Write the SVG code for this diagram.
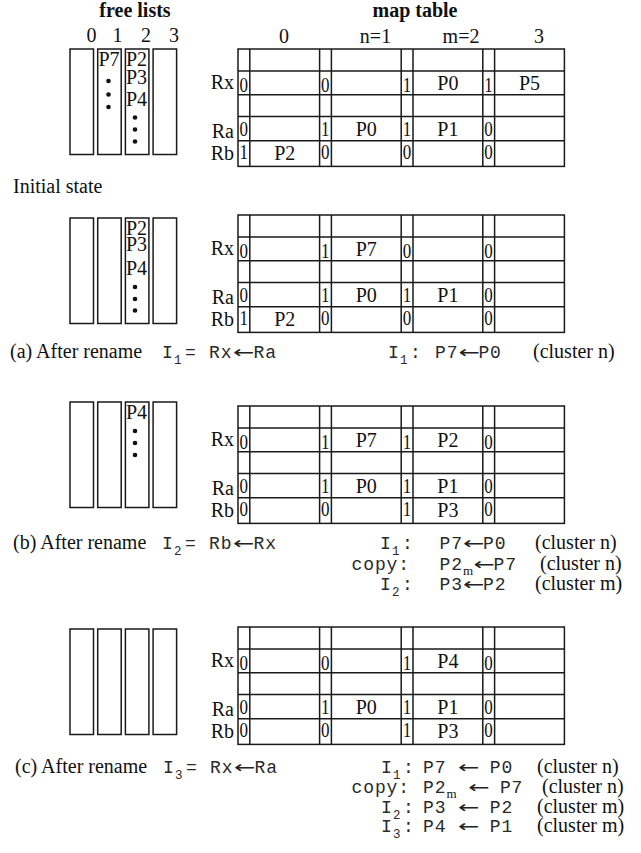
<svg xmlns="http://www.w3.org/2000/svg" xmlns:xlink="http://www.w3.org/1999/xlink" width="641" height="853" viewBox="0 0 641 853">
<style>
.t{font-family:"Liberation Serif","Times New Roman",serif;font-size:20px;fill:#111}
.b{font-weight:bold}
.mo{font-family:"Liberation Mono","Courier New",monospace;font-size:18px;letter-spacing:0.9px;fill:#2a2a2a}
.sub{font-family:"Liberation Mono","Courier New",monospace;font-size:12.5px;fill:#2a2a2a}
.subs{font-family:"Liberation Serif","Times New Roman",serif;font-size:13px;fill:#111}
.arr{font-family:"DejaVu Sans","Liberation Serif",sans-serif;font-size:17px;fill:#222}
.lbl{text-anchor:end}
.val{text-anchor:middle}
.fd{font-family:"Liberation Serif","Times New Roman",serif;font-size:20px;fill:#111}
.ln{fill:none;stroke:#1a1a1a;stroke-width:1.5}
.dot{fill:#111}
</style>
<defs>
<g id="grid" class="ln">
<rect x="238" y="0" width="326.4" height="117.4"/>
<path d="M238 22H564.4M238 45.7H564.4M238 67.5H564.4M238 91.7H564.4M249.8 0V117.4M319.6 0V117.4M331.4 0V117.4M401.2 0V117.4M413 0V117.4M482.8 0V117.4M494.6 0V117.4"/>
</g>
<g id="fl" class="ln">
<rect x="70" y="0" width="23.5" height="105.5"/>
<rect x="97.7" y="0" width="23.5" height="105.5"/>
<rect x="125.4" y="0" width="23.5" height="105.5"/>
<rect x="153.1" y="0" width="23.5" height="105.5"/>
</g>
</defs>

<g id="headers">
<text class="t b" x="135" y="16.5" text-anchor="middle">free lists</text>
<text class="t b" x="415" y="16.5" text-anchor="middle">map table</text>
<text class="t val" x="91.5" y="41.5">0</text>
<text class="t val" x="117.5" y="41.5">1</text>
<text class="t val" x="146" y="41.5">2</text>
<text class="t val" x="174" y="41.5">3</text>
<text class="t val" x="284" y="43">0</text>
<text class="t val" x="375.5" y="43">n=1</text>
<text class="t val" x="461" y="43">m=2</text>
<text class="t val" x="539" y="43">3</text>
</g>

<!-- Initial state -->
<g id="state0">
<g id="freelists0">
<use xlink:href="#fl" transform="translate(0,49)"/>
<text class="t" x="98.5" y="65.5">P7</text>
<circle class="dot" cx="108.5" cy="81" r="2.3"/>
<circle class="dot" cx="108.5" cy="94.5" r="2.3"/>
<circle class="dot" cx="108.5" cy="107" r="2.3"/>
<text class="t" x="126" y="65.5">P2</text>
<text class="t" x="126" y="83.5">P3</text>
<text class="t" x="126" y="106">P4</text>
<circle class="dot" cx="135" cy="117.5" r="2.3"/>
<circle class="dot" cx="135" cy="129.5" r="2.3"/>
<circle class="dot" cx="135" cy="141.5" r="2.3"/>
</g>
<g id="map0">
<use xlink:href="#grid" transform="translate(0,49)"/>
<text class="t lbl" x="234" y="88.5">Rx</text>
<text class="t lbl" x="234" y="137.5">Ra</text>
<text class="t lbl" x="234" y="160">Rb</text>
<text class="fd" x="239.5" y="91.5" textLength="8.5" lengthAdjust="spacingAndGlyphs">0</text>
<text class="fd" x="321.1" y="91.5" textLength="8.5" lengthAdjust="spacingAndGlyphs">0</text>
<text class="fd" x="402.7" y="91.5" textLength="8.5" lengthAdjust="spacingAndGlyphs">1</text>
<text class="fd" x="484.3" y="91.5" textLength="8.5" lengthAdjust="spacingAndGlyphs">1</text>
<text class="fd" x="239.5" y="135.5" textLength="8.5" lengthAdjust="spacingAndGlyphs">0</text>
<text class="fd" x="321.1" y="135.5" textLength="8.5" lengthAdjust="spacingAndGlyphs">1</text>
<text class="fd" x="402.7" y="135.5" textLength="8.5" lengthAdjust="spacingAndGlyphs">1</text>
<text class="fd" x="484.3" y="135.5" textLength="8.5" lengthAdjust="spacingAndGlyphs">0</text>
<text class="fd" x="239.5" y="159" textLength="8.5" lengthAdjust="spacingAndGlyphs">1</text>
<text class="fd" x="321.1" y="159" textLength="8.5" lengthAdjust="spacingAndGlyphs">0</text>
<text class="fd" x="402.7" y="159" textLength="8.5" lengthAdjust="spacingAndGlyphs">0</text>
<text class="fd" x="484.3" y="159" textLength="8.5" lengthAdjust="spacingAndGlyphs">0</text>
<text class="t val" x="447.9" y="90">P0</text>
<text class="t val" x="529.5" y="90">P5</text>
<text class="t val" x="366.3" y="135.5">P0</text>
<text class="t val" x="447.9" y="135.5">P1</text>
<text class="t val" x="284.7" y="159.5">P2</text>
</g>
<text class="t" x="13" y="193">Initial state</text>
</g>

<!-- (a) -->
<g id="stateA">
<g id="freelistsA">
<use xlink:href="#fl" transform="translate(0,218)"/>
<text class="t" x="126" y="234.5">P2</text>
<text class="t" x="126" y="251">P3</text>
<text class="t" x="126" y="275">P4</text>
<circle class="dot" cx="135" cy="287" r="2.3"/>
<circle class="dot" cx="135" cy="299" r="2.3"/>
<circle class="dot" cx="135" cy="310.5" r="2.3"/>
</g>
<g id="mapA">
<use xlink:href="#grid" transform="translate(0,215)"/>
<text class="t lbl" x="234" y="254.5">Rx</text>
<text class="t lbl" x="234" y="303.5">Ra</text>
<text class="t lbl" x="234" y="326">Rb</text>
<text class="fd" x="239.5" y="257.5" textLength="8.5" lengthAdjust="spacingAndGlyphs">0</text>
<text class="fd" x="321.1" y="257.5" textLength="8.5" lengthAdjust="spacingAndGlyphs">1</text>
<text class="fd" x="402.7" y="257.5" textLength="8.5" lengthAdjust="spacingAndGlyphs">0</text>
<text class="fd" x="484.3" y="257.5" textLength="8.5" lengthAdjust="spacingAndGlyphs">0</text>
<text class="fd" x="239.5" y="301.5" textLength="8.5" lengthAdjust="spacingAndGlyphs">0</text>
<text class="fd" x="321.1" y="301.5" textLength="8.5" lengthAdjust="spacingAndGlyphs">1</text>
<text class="fd" x="402.7" y="301.5" textLength="8.5" lengthAdjust="spacingAndGlyphs">1</text>
<text class="fd" x="484.3" y="301.5" textLength="8.5" lengthAdjust="spacingAndGlyphs">0</text>
<text class="fd" x="239.5" y="325" textLength="8.5" lengthAdjust="spacingAndGlyphs">1</text>
<text class="fd" x="321.1" y="325" textLength="8.5" lengthAdjust="spacingAndGlyphs">0</text>
<text class="fd" x="402.7" y="325" textLength="8.5" lengthAdjust="spacingAndGlyphs">0</text>
<text class="fd" x="484.3" y="325" textLength="8.5" lengthAdjust="spacingAndGlyphs">0</text>
<text class="t val" x="366.3" y="256">P7</text>
<text class="t val" x="366.3" y="301.5">P0</text>
<text class="t val" x="447.9" y="301.5">P1</text>
<text class="t val" x="284.7" y="325.5">P2</text>
</g>
<g id="captionA">
<text class="t" x="10" y="358">(a) After rename</text>
<text class="mo" x="162" y="358">I</text>
<text class="sub" x="174" y="364">1</text>
<text class="mo" x="185" y="358">=</text>
<text class="mo" x="209" y="358">Rx</text>
<text class="arr" transform="translate(233,358) scale(1.5,1)">←</text>
<text class="mo" x="253.5" y="358">Ra</text>
<text class="mo" x="388" y="358">I</text>
<text class="sub" x="400" y="364">1</text>
<text class="mo" x="410" y="358">:</text>
<text class="mo" x="435" y="358">P7</text>
<text class="arr" transform="translate(458.4,358) scale(1.5,1)">←</text>
<text class="mo" x="478.4" y="358">P0</text>
<text class="t" x="533" y="358">(cluster n)</text>
</g>
</g>

<!-- (b) -->
<g id="stateB">
<g id="freelistsB">
<use xlink:href="#fl" transform="translate(0,402)"/>
<text class="t" x="126" y="419">P4</text>
<circle class="dot" cx="135" cy="431" r="2.3"/>
<circle class="dot" cx="135" cy="443" r="2.3"/>
<circle class="dot" cx="135" cy="455" r="2.3"/>
</g>
<g id="mapB">
<use xlink:href="#grid" transform="translate(0,406)"/>
<text class="t lbl" x="234" y="445.5">Rx</text>
<text class="t lbl" x="234" y="494.5">Ra</text>
<text class="t lbl" x="234" y="517">Rb</text>
<text class="fd" x="239.5" y="448.5" textLength="8.5" lengthAdjust="spacingAndGlyphs">0</text>
<text class="fd" x="321.1" y="448.5" textLength="8.5" lengthAdjust="spacingAndGlyphs">1</text>
<text class="fd" x="402.7" y="448.5" textLength="8.5" lengthAdjust="spacingAndGlyphs">1</text>
<text class="fd" x="484.3" y="448.5" textLength="8.5" lengthAdjust="spacingAndGlyphs">0</text>
<text class="fd" x="239.5" y="492.5" textLength="8.5" lengthAdjust="spacingAndGlyphs">0</text>
<text class="fd" x="321.1" y="492.5" textLength="8.5" lengthAdjust="spacingAndGlyphs">1</text>
<text class="fd" x="402.7" y="492.5" textLength="8.5" lengthAdjust="spacingAndGlyphs">1</text>
<text class="fd" x="484.3" y="492.5" textLength="8.5" lengthAdjust="spacingAndGlyphs">0</text>
<text class="fd" x="239.5" y="516" textLength="8.5" lengthAdjust="spacingAndGlyphs">0</text>
<text class="fd" x="321.1" y="516" textLength="8.5" lengthAdjust="spacingAndGlyphs">0</text>
<text class="fd" x="402.7" y="516" textLength="8.5" lengthAdjust="spacingAndGlyphs">1</text>
<text class="fd" x="484.3" y="516" textLength="8.5" lengthAdjust="spacingAndGlyphs">0</text>
<text class="t val" x="366.3" y="447">P7</text>
<text class="t val" x="447.9" y="447">P2</text>
<text class="t val" x="366.3" y="492.5">P0</text>
<text class="t val" x="447.9" y="492.5">P1</text>
<text class="t val" x="447.9" y="516.5">P3</text>
</g>
<g id="captionB">
<text class="t" x="13" y="549">(b) After rename</text>
<text class="mo" x="162" y="549">I</text>
<text class="sub" x="174" y="555">2</text>
<text class="mo" x="185" y="549">=</text>
<text class="mo" x="209" y="549">Rb</text>
<text class="arr" transform="translate(233,549) scale(1.5,1)">←</text>
<text class="mo" x="253.5" y="549">Rx</text>

<text class="mo" x="380" y="549">I</text>
<text class="sub" x="392" y="555">1</text>
<text class="mo" x="402" y="549">:</text>
<text class="mo" x="439.5" y="549">P7</text>
<text class="arr" transform="translate(463,549) scale(1.5,1)">←</text>
<text class="mo" x="483" y="549">P0</text>
<text class="t" x="535" y="549">(cluster n)</text>

<text class="mo" x="351.5" y="569.5">copy:</text>
<text class="mo" x="439.5" y="569.5">P2</text>
<text class="subs" x="463" y="574.5">m</text>
<text class="arr" transform="translate(473.5,569.5) scale(1.5,1)">←</text>
<text class="mo" x="493.5" y="569.5">P7</text>
<text class="t" x="540" y="569.5">(cluster n)</text>

<text class="mo" x="380" y="590">I</text>
<text class="sub" x="392" y="596">2</text>
<text class="mo" x="402" y="590">:</text>
<text class="mo" x="439.5" y="590">P3</text>
<text class="arr" transform="translate(463,590) scale(1.5,1)">←</text>
<text class="mo" x="483" y="590">P2</text>
<text class="t" x="535" y="590">(cluster m)</text>
</g>
</g>

<!-- (c) -->
<g id="stateC">
<g id="freelistsC">
<use xlink:href="#fl" transform="translate(0,629)"/>
</g>
<g id="mapC">
<use xlink:href="#grid" transform="translate(0,627)"/>
<text class="t lbl" x="234" y="666.5">Rx</text>
<text class="t lbl" x="234" y="715.5">Ra</text>
<text class="t lbl" x="234" y="738">Rb</text>
<text class="fd" x="239.5" y="669.5" textLength="8.5" lengthAdjust="spacingAndGlyphs">0</text>
<text class="fd" x="321.1" y="669.5" textLength="8.5" lengthAdjust="spacingAndGlyphs">0</text>
<text class="fd" x="402.7" y="669.5" textLength="8.5" lengthAdjust="spacingAndGlyphs">1</text>
<text class="fd" x="484.3" y="669.5" textLength="8.5" lengthAdjust="spacingAndGlyphs">0</text>
<text class="fd" x="239.5" y="713.5" textLength="8.5" lengthAdjust="spacingAndGlyphs">0</text>
<text class="fd" x="321.1" y="713.5" textLength="8.5" lengthAdjust="spacingAndGlyphs">1</text>
<text class="fd" x="402.7" y="713.5" textLength="8.5" lengthAdjust="spacingAndGlyphs">1</text>
<text class="fd" x="484.3" y="713.5" textLength="8.5" lengthAdjust="spacingAndGlyphs">0</text>
<text class="fd" x="239.5" y="737" textLength="8.5" lengthAdjust="spacingAndGlyphs">0</text>
<text class="fd" x="321.1" y="737" textLength="8.5" lengthAdjust="spacingAndGlyphs">0</text>
<text class="fd" x="402.7" y="737" textLength="8.5" lengthAdjust="spacingAndGlyphs">1</text>
<text class="fd" x="484.3" y="737" textLength="8.5" lengthAdjust="spacingAndGlyphs">0</text>
<text class="t val" x="447.9" y="668">P4</text>
<text class="t val" x="366.3" y="713.5">P0</text>
<text class="t val" x="447.9" y="713.5">P1</text>
<text class="t val" x="447.9" y="737.5">P3</text>
</g>
<g id="captionC">
<text class="t" x="15" y="773">(c) After rename</text>
<text class="mo" x="163" y="773">I</text>
<text class="sub" x="175" y="779">3</text>
<text class="mo" x="186" y="773">=</text>
<text class="mo" x="210" y="773">Rx</text>
<text class="arr" transform="translate(234,773) scale(1.5,1)">←</text>
<text class="mo" x="254.5" y="773">Ra</text>

<text class="mo" x="381" y="773">I</text>
<text class="sub" x="393" y="779">1</text>
<text class="mo" x="403" y="773">:</text>
<text class="mo" x="423" y="773">P7</text>
<text class="arr" transform="translate(458.1,773) scale(1.5,1)">←</text>
<text class="mo" x="489.8" y="773">P0</text>
<text class="t" x="537" y="773">(cluster n)</text>

<text class="mo" x="351.5" y="793">copy:</text>
<text class="mo" x="423" y="793">P2</text>
<text class="subs" x="446.4" y="798">m</text>
<text class="arr" transform="translate(468.2,793) scale(1.5,1)">←</text>
<text class="mo" x="499.9" y="793">P7</text>
<text class="t" x="542" y="793">(cluster n)</text>

<text class="mo" x="381" y="812.5">I</text>
<text class="sub" x="393" y="818.5">2</text>
<text class="mo" x="403" y="812.5">:</text>
<text class="mo" x="423" y="812.5">P3</text>
<text class="arr" transform="translate(458.1,812.5) scale(1.5,1)">←</text>
<text class="mo" x="489.8" y="812.5">P2</text>
<text class="t" x="537" y="812.5">(cluster m)</text>

<text class="mo" x="381" y="832">I</text>
<text class="sub" x="393" y="838">3</text>
<text class="mo" x="403" y="832">:</text>
<text class="mo" x="423" y="832">P4</text>
<text class="arr" transform="translate(458.1,832) scale(1.5,1)">←</text>
<text class="mo" x="489.8" y="832">P1</text>
<text class="t" x="537" y="832">(cluster m)</text>
</g>
</g>
</svg>
